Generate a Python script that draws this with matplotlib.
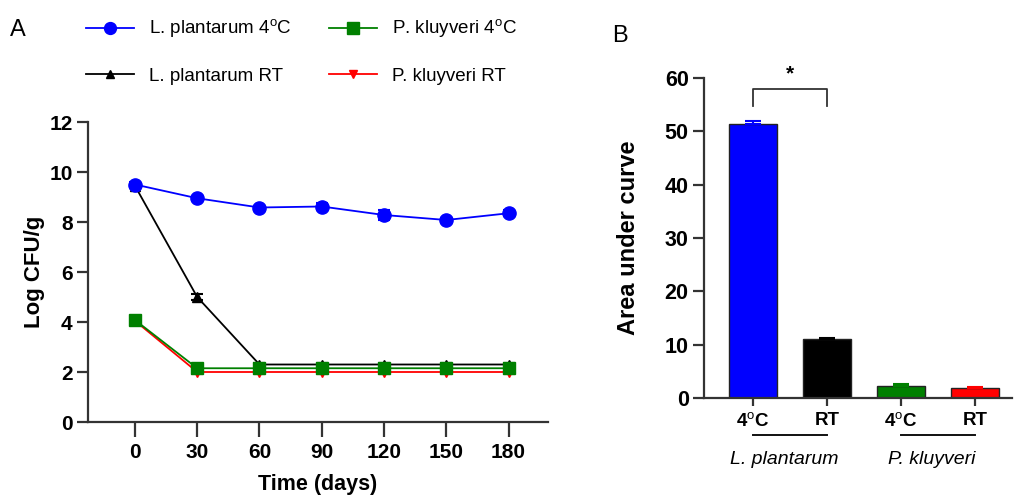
import matplotlib
matplotlib.use("Agg")
import matplotlib.pyplot as plt
from matplotlib.lines import Line2D
import numpy as np

plt.rcParams['font.family'] = ['Liberation Sans', 'DejaVu Sans']
plt.rcParams['mathtext.fontset'] = 'custom'
plt.rcParams['mathtext.rm'] = 'Liberation Sans'
plt.rcParams['mathtext.bf'] = 'Liberation Sans:bold'

# ---- Panel A data ----
days = [0, 30, 60, 90, 120, 150, 180]
lp_4c = [9.50, 8.95, 8.58, 8.62, 8.28, 8.08, 8.35]
lp_4c_err = [0.10, 0.08, 0.08, 0.15, 0.20, 0.08, 0.12]
lp_rt = [9.45, 5.00, 2.30, 2.30, 2.30, 2.30, 2.30]
lp_rt_err = [0.08, 0.12, 0.05, 0.05, 0.05, 0.05, 0.05]
pk_4c = [4.08, 2.15, 2.15, 2.15, 2.15, 2.15, 2.15]
pk_4c_err = [0.05, 0.05, 0.05, 0.05, 0.05, 0.05, 0.05]
pk_rt = [4.05, 2.00, 2.00, 2.00, 2.00, 2.00, 2.00]
pk_rt_err = [0.05, 0.08, 0.08, 0.08, 0.08, 0.08, 0.08]
yticks_a = [0, 2, 4, 6, 8, 10, 12]

# ---- Panel B data ----
bar_labels = [r"4$^{\rm o}$C", "RT", r"4$^{\rm o}$C", "RT"]
auc = [51.3, 11.0, 2.2, 1.9]
auc_err = [0.6, 0.3, 0.45, 0.2]
bar_colors = ["#0000ff", "#000000", "#008000", "#ff0000"]
groups = ["L. plantarum", "P. kluyveri"]
yticks_b = [0, 10, 20, 30, 40, 50, 60]

W, H = 1015, 497
fig = plt.figure(figsize=(W / 100, H / 100), dpi=100)

def fx(px):
    return px / W

def fy(py):
    return 1 - py / H

spine_col = "#333333"

# ---------------- Panel A ----------------
axA = fig.add_axes([fx(88), fy(422), fx(548) - fx(88), fy(122) - fy(422)])
series = [
    (lp_4c, lp_4c_err, "#0000ff", "o", 9.5, r"L. plantarum 4$^{\rm o}$C"),
    (pk_4c, pk_4c_err, "#008000", "s", 9, r"P. kluyveri 4$^{\rm o}$C"),
    (lp_rt, lp_rt_err, "#000000", "^", 7, "L. plantarum RT"),
    (pk_rt, pk_rt_err, "#ff0000", "v", 7, "P. kluyveri RT"),
]
handles = {}
for idx in [3, 2, 1, 0]:
    vals, err, col, mk, ms, lab = series[idx]
    axA.errorbar(days, vals, yerr=err, color=col, marker=mk, markersize=ms,
                 linewidth=1.3, elinewidth=1.5, capsize=4, capthick=1.5,
                 zorder=3 + (3 - idx))
    handles[idx] = Line2D([], [], color=col, marker=mk, markersize=ms * 0.9,
                          linewidth=1.3)

axA.set_xlim(-22.6, 199)
axA.set_ylim(0, 12)
axA.set_yticks(yticks_a)
axA.set_xticks(days)
for s in ["top", "right"]:
    axA.spines[s].set_visible(False)
for s in ["left", "bottom"]:
    axA.spines[s].set_linewidth(1.6)
    axA.spines[s].set_color(spine_col)
axA.tick_params(axis="y", width=1.6, length=8, color=spine_col, labelsize=15, pad=3)
axA.tick_params(axis="x", width=1.6, length=11, color=spine_col, labelsize=15, pad=4)
for t in axA.get_xticklabels() + axA.get_yticklabels():
    t.set_fontweight("bold")
axA.set_ylabel("Log CFU/g", fontsize=16, fontweight="bold", labelpad=3)
axA.set_xlabel("Time (days)", fontsize=15.5, fontweight="bold", labelpad=9)

order = [0, 2, 1, 3]
fig.legend([handles[i] for i in order], [series[i][5] for i in order],
           ncol=2, loc="center left", bbox_to_anchor=(fx(86), fy(51)),
           frameon=False, fontsize=13.5, handlelength=2.55,
           columnspacing=2.0, labelspacing=1.45, handletextpad=0.8,
           borderpad=0, borderaxespad=0)

fig.text(fx(10), fy(30), "A", fontsize=17, va="center", ha="left")

# ---------------- Panel B ----------------
axB = fig.add_axes([fx(704), fy(398), fx(1012) - fx(704), fy(78) - fy(398)])
xpos = np.arange(len(auc))
for i in range(len(auc)):
    axB.bar(xpos[i], auc[i], width=0.65, color=bar_colors[i], edgecolor="#222222",
            linewidth=1.0, zorder=2)
    axB.errorbar(xpos[i], auc[i], yerr=[[0], [auc_err[i]]], color=bar_colors[i],
                 capsize=6, elinewidth=1.5, capthick=1.5, fmt="none", zorder=3)
axB.set_xlim(-0.66, 3.5)
axB.set_ylim(0, 60)
axB.set_yticks(yticks_b)
axB.set_xticks(xpos)
axB.set_xticklabels(bar_labels)
for s in ["top", "right"]:
    axB.spines[s].set_visible(False)
for s in ["left", "bottom"]:
    axB.spines[s].set_linewidth(1.6)
    axB.spines[s].set_color(spine_col)
axB.tick_params(axis="y", width=1.6, length=8, color=spine_col, labelsize=15.5, pad=3)
axB.tick_params(axis="x", width=1.6, length=6, color=spine_col, labelsize=13.5, pad=4)
for t in axB.get_xticklabels() + axB.get_yticklabels():
    t.set_fontweight("bold")
axB.set_ylabel("Area under curve", fontsize=17, fontweight="bold", labelpad=18)

# significance bracket
axB.plot([0, 0, 1, 1], [54.7, 57.9, 57.9, 54.7], color=spine_col, linewidth=1.3,
         clip_on=False)
axB.text(0.5, 59.0, "*", ha="center", va="bottom", fontsize=15, fontweight="bold")

# group underlines and labels
trans = axB.get_xaxis_transform()
gy_line = (fy(435) - fy(398)) / (fy(78) - fy(398))
gy_text = (fy(459) - fy(398)) / (fy(78) - fy(398))
for gi, gname in enumerate(groups):
    x0, x1 = 2 * gi, 2 * gi + 1
    axB.plot([x0, x1], [gy_line, gy_line], transform=trans, color="#111111",
             linewidth=1.4, clip_on=False)
    axB.text((x0 + x1) / 2 - 0.08, gy_text, gname,
             transform=trans, ha="center", va="center", fontsize=14,
             fontstyle="italic")

fig.text(fx(612), fy(36), "B", fontsize=17, va="center", ha="left")

fig.savefig("out.png", dpi=100)
